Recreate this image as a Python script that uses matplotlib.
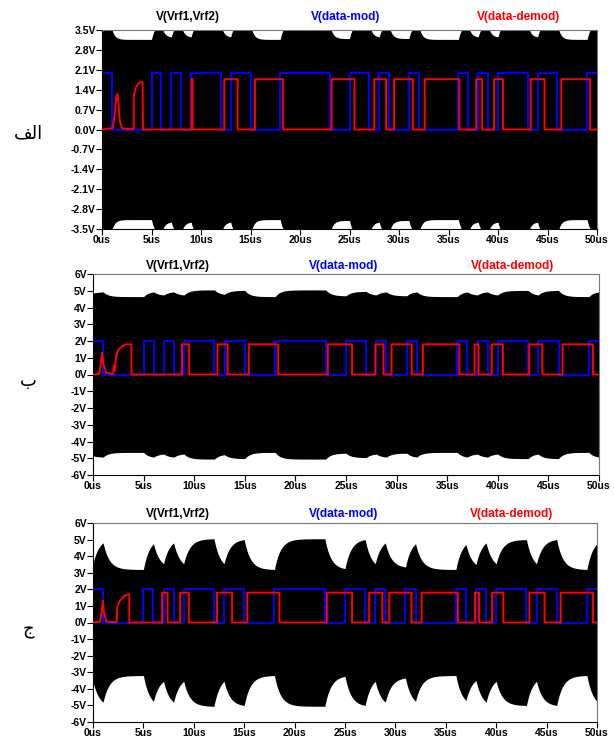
import numpy as np
import matplotlib
matplotlib.use("Agg")
import matplotlib.pyplot as plt

W, H = 614, 742

# data bits (1 us each), same stream in all three runs
bits = [1, 0, 0, 0, 0, 1, 0, 1, 0, 1, 1, 1, 0, 1, 1, 0, 0, 0, 1, 1, 1, 1, 1, 0, 0,
        1, 1, 0, 1, 0, 0, 1, 0, 0, 0, 0, 1, 0, 1, 0, 1, 1, 1, 0, 1, 1, 0, 0, 0, 1]
bit_level = 2.0

# envelope of V(Vrf1,Vrf2): turning points (us) and peak value (V) per panel
env_t = [0, 1, 5, 6, 7, 8, 9, 12, 13, 15, 18, 23, 25, 27, 28, 29, 31, 32, 36, 37,
         38, 39, 40, 43, 44, 46, 49, 50]
env1 = [3.45, 3.52, 3.17, 3.65, 3.26, 3.65, 3.26, 3.7, 3.26, 3.7, 3.17, 3.7, 3.2, 3.7,
        3.26, 3.65, 3.2, 3.65, 3.17, 3.65, 3.26, 3.65, 3.26, 3.7, 3.26, 3.7, 3.17, 3.65]
env2 = [4.85, 4.93, 4.65, 4.93, 4.75, 4.93, 4.75, 5.05, 4.79, 5.02, 4.65, 5.05, 4.7, 4.96,
        4.75, 4.93, 4.7, 4.93, 4.65, 4.93, 4.75, 4.93, 4.75, 5.02, 4.75, 5.02, 4.65, 4.93]
env3 = [3.55, 4.8, 3.2, 4.75, 3.55, 4.8, 3.55, 5.05, 3.55, 5.0, 3.2, 5.05, 3.25, 5.0,
        3.55, 4.8, 3.35, 4.75, 3.2, 4.7, 3.5, 4.8, 3.55, 5.0, 3.55, 5.0, 3.2, 4.75]

# demodulated output: start-up transient samples, then pulses (start, end)
red1_tt = [0, 0.5, 1.1, 1.3, 1.45, 1.55, 1.65, 1.8, 2.0, 2.5, 3.2, 3.2, 3.4, 3.6, 3.8, 4.1, 4.14]
red1_tv = [0, 0.02, 0.05, 0.6, 1.15, 1.26, 1.0, 0.3, 0.05, 0.02, 0.02, 1.15, 1.45, 1.6, 1.65, 1.67, 0.0]
red1_pulses = [(9.05, 9.15), (12.35, 13.7), (15.45, 18.3), (23.2, 25.5), (27.5, 28.7),
               (29.5, 31.4), (32.6, 36.1), (37.8, 38.4), (39.6, 40.5), (43.3, 44.7),
               (46.4, 49.3)]
red1_level = 1.77

red2_tt = [0, 0.6, 0.75, 0.9, 1.05, 1.3, 1.8, 2.0, 2.05, 2.12, 2.2, 2.3, 2.6, 3.0, 3.3, 3.8, 3.8]
red2_tv = [0, 0.03, 0.5, 1.3, 0.6, 0.1, 0.05, 0.05, 0.55, 0.2, 0.5, 1.2, 1.55, 1.75, 1.8, 1.8, 0.0]
red2_pulses = [(8.8, 9.5), (12.3, 13.3), (15.4, 18.3), (23.2, 25.6), (27.9, 28.7),
               (29.5, 31.5), (32.6, 36.2), (37.7, 38.1), (39.4, 40.5), (43.1, 44.4),
               (46.4, 49.4)]
red2_level = 1.8

red3_tt = [0, 0.7, 0.85, 0.97, 1.1, 1.3, 1.6, 2.35, 2.4, 2.6, 2.9, 3.2, 3.5, 3.6, 3.6]
red3_tv = [0, 0.05, 0.6, 1.32, 0.6, 0.1, 0.03, 0.03, 0.9, 1.25, 1.5, 1.65, 1.7, 1.7, 0.0]
red3_pulses = [(6.85, 7.4), (8.65, 9.5), (12.3, 13.8), (15.3, 18.5), (23.2, 25.7),
               (27.4, 28.7), (29.4, 31.6), (32.6, 36.2), (37.9, 38.3), (39.6, 40.7),
               (43.3, 44.8), (46.4, 49.6)]
red3_level = 1.8

x_ticks = [0, 5, 10, 15, 20, 25, 30, 35, 40, 45, 50]
x_labels = ["0us", "5us", "10us", "15us", "20us", "25us", "30us", "35us", "40us", "45us", "50us"]
y1_ticks = [3.5, 2.8, 2.1, 1.4, 0.7, 0.0, -0.7, -1.4, -2.1, -2.8, -3.5]
y1_labels = ["3.5V", "2.8V", "2.1V", "1.4V", "0.7V", "0.0V", "-0.7V", "-1.4V", "-2.1V", "-2.8V", "-3.5V"]
y2_ticks = [6, 5, 4, 3, 2, 1, 0, -1, -2, -3, -4, -5, -6]
y2_labels = ["6V", "5V", "4V", "3V", "2V", "1V", "0V", "-1V", "-2V", "-3V", "-4V", "-5V", "-6V"]

# panel names, pre-shaped Arabic presentation forms in visual order (الف, ب, ج)
panel_names = ["\uFED2\uFEDF\uFE8D", "\uFE8F", "\uFE9D"]

tick_font = dict(family=["Liberation Sans Narrow", "Liberation Sans", "DejaVu Sans"],
                 weight="bold", size=7.5)
title_font = dict(tick_font, size=8.6)


def envelope(kt, kv, tau, n=60):
    ts, vs = [], []
    for i in range(len(kt) - 1):
        t0, t1, v0, v1 = kt[i], kt[i + 1], kv[i], kv[i + 1]
        s = np.linspace(0, t1 - t0, n)
        f = (1 - np.exp(-s / tau)) / (1 - np.exp(-(t1 - t0) / tau))
        ts.append(t0 + s)
        vs.append(v0 + (v1 - v0) * f)
    return np.concatenate(ts), np.concatenate(vs)


def demod_trace(tt, tv, pulses, level):
    t, v = list(tt), list(tv)
    for a, b in pulses:
        t += [a, a, b, b]
        v += [0, level, level, 0]
    t.append(50)
    v.append(0)
    return t, v


def rect(l, t, r, b):
    return [l / W, 1 - b / H, (r - l) / W, (b - t) / H]


fig = plt.figure(figsize=(W / 100, H / 100), dpi=100)

panels = [
    dict(box=(102, 30, 597, 229), env=env1, tau=0.3, ylim=3.5, yt=y1_ticks, yl=y1_labels,
         red=(red1_tt, red1_tv, red1_pulses, red1_level), title_y=17,
         title_x=(188, 346, 519), name_y=133),
    dict(box=(93, 274, 599, 475), env=env2, tau=0.5, ylim=6, yt=y2_ticks, yl=y2_labels,
         red=(red2_tt, red2_tv, red2_pulses, red2_level), title_y=266,
         title_x=(178, 344, 513), name_y=381),
    dict(box=(93, 523, 597, 722), env=env3, tau=0.6, ylim=6, yt=y2_ticks, yl=y2_labels,
         red=(red3_tt, red3_tv, red3_pulses, red3_level), title_y=514,
         title_x=(178, 344, 512), name_y=630),
]

blue_y = [b * bit_level for b in bits] + [bits[-1] * bit_level]

for i, p in enumerate(panels):
    ax = fig.add_axes(rect(*p["box"]))
    te, ve = envelope(env_t, p["env"], p["tau"])
    ax.fill_between(te, -ve, ve, color="black", lw=0, zorder=1)
    ax.step(np.arange(len(bits) + 1), blue_y, where="post",
            color="#0000ff", lw=1.4, zorder=2)
    rt, rv = demod_trace(*p["red"])
    ax.plot(rt, rv, color="#ff0000", lw=1.4, zorder=3)

    ax.set_xlim(0, 50)
    ax.set_ylim(-p["ylim"], p["ylim"])
    ax.set_xticks(x_ticks)
    ax.set_xticklabels(x_labels, **tick_font)
    ax.set_yticks(p["yt"])
    ax.set_yticklabels(p["yl"], **tick_font)
    ax.tick_params(direction="out", length=4, width=0.8, pad=0.5, colors="black")
    for side in ["top", "right"]:
        ax.spines[side].set_color("#777777")
    for s in ax.spines.values():
        s.set_linewidth(0.8)

    ty = 1 - p["title_y"] / H
    for x, txt, c in zip(p["title_x"], ["V(Vrf1,Vrf2)", "V(data-mod)", "V(data-demod)"],
                         ["black", "#0000ff", "#ff0000"]):
        fig.text(x / W, ty, txt, color=c, ha="center", va="center", **title_font)

    fig.text(28 / W, 1 - p["name_y"] / H, panel_names[i], ha="center", va="center",
             fontsize=13, family="DejaVu Sans")

fig.savefig("out.png", dpi=100)
